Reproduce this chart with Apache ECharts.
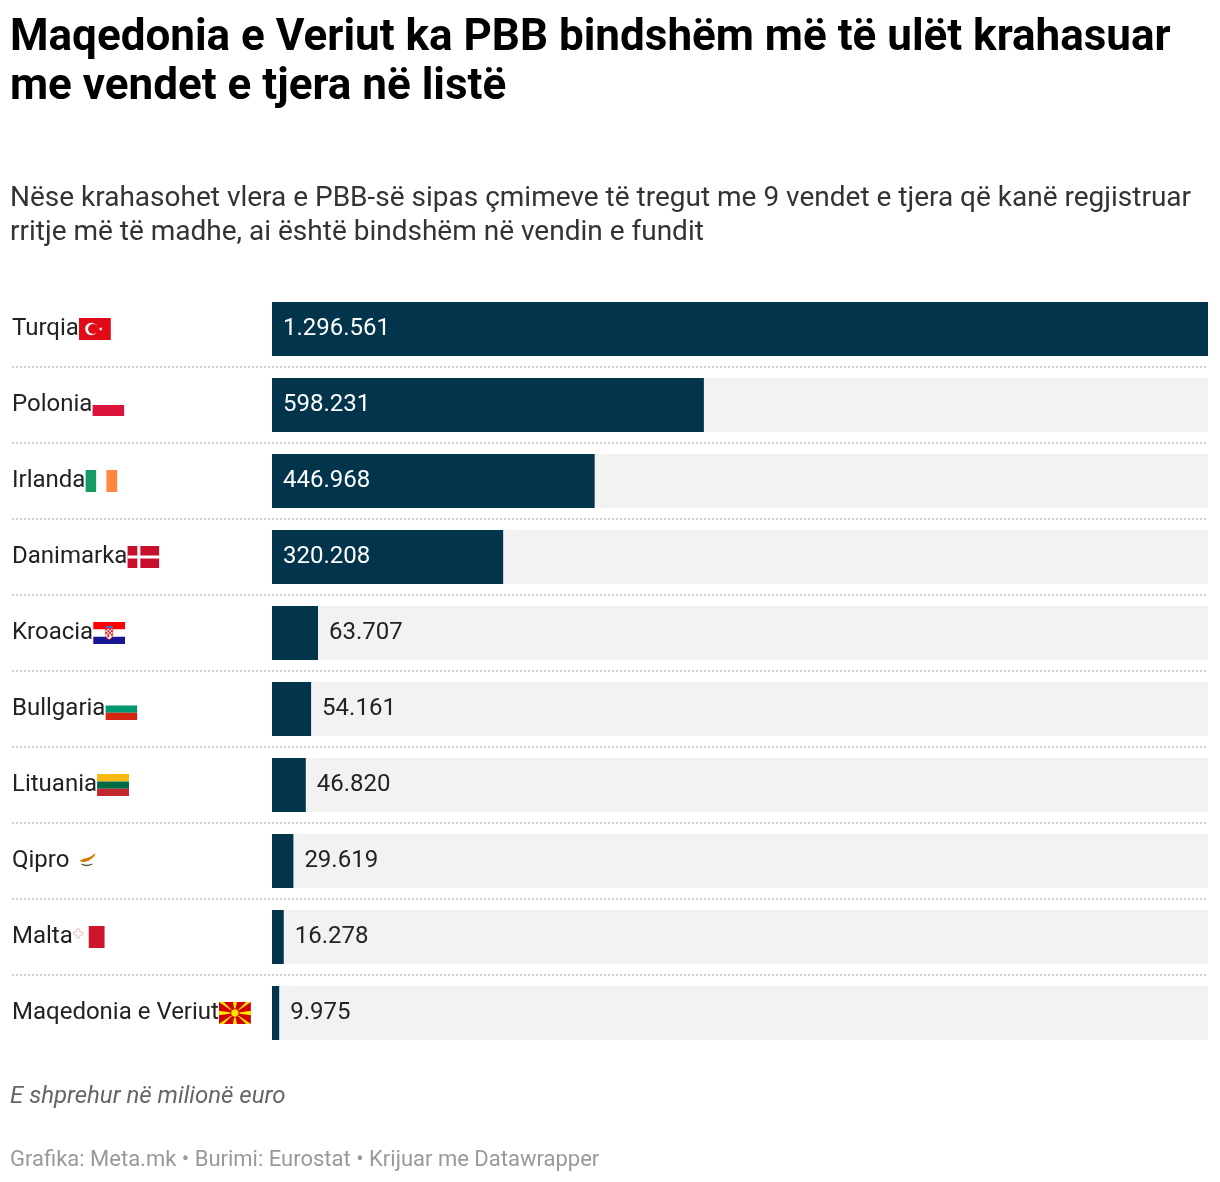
<!DOCTYPE html>
<html>
<head>
<meta charset="utf-8">
<script src="https://cdn.jsdelivr.net/npm/echarts@6/dist/echarts.min.js"></script>
<style>
html,body{margin:0;padding:0;background:#fff;}
#chart{width:1220px;height:1182px;}
</style>
</head>
<body>
<div id="chart"></div>
<script>
const categories = ['Turqia','Polonia','Irlanda','Danimarka','Kroacia','Bullgaria','Lituania','Qipro','Malta','Maqedonia e Veriut'];
const values = [1296561, 598231, 446968, 320208, 63707, 54161, 46820, 29619, 16278, 9975];
const flagKeys = ['tr','pl','ie','dk','hr','bg','lt','cy','mt','mk'];
const labelInside = [true, true, true, true, false, false, false, false, false, false];

const titleText = 'Maqedonia e Veriut ka PBB bindshëm më të ulët krahasuar\nme vendet e tjera në listë';
const subtitleText = 'Nëse krahasohet vlera e PBB-së sipas çmimeve të tregut me 9 vendet e tjera që kanë regjistruar\nrritje më të madhe, ai është bindshëm në vendin e fundit';
const noteText = 'E shprehur në milionë euro';
const creditText = 'Grafika: Meta.mk • Burimi: Eurostat • Krijuar me Datawrapper';

// Flag icons (decorative), as small SVG images
const flagSvgs = {
  tr: '<rect width="32" height="22" fill="#E30A17"/><circle cx="12.5" cy="11" r="6.2" fill="#fff"/><circle cx="14.2" cy="11" r="5" fill="#E30A17"/><polygon points="19.5,11 23.5,9.5 21.2,12.9 21.2,9.1 23.5,12.5" fill="#fff"/>',
  pl: '<rect width="32" height="11" fill="#fff"/><rect y="11" width="32" height="11" fill="#DC143C"/>',
  ie: '<rect width="11" height="22" fill="#169B62"/><rect x="11" width="10" height="22" fill="#fff"/><rect x="21" width="11" height="22" fill="#FF883E"/>',
  dk: '<rect width="32" height="22" fill="#C8102E"/><rect x="10" width="3" height="22" fill="#fff"/><rect y="9.5" width="32" height="3" fill="#fff"/>',
  hr: '<rect width="32" height="7.4" fill="#FF0000"/><rect y="7.4" width="32" height="7.3" fill="#fff"/><rect y="14.7" width="32" height="7.3" fill="#171796"/><rect x="12.5" y="4" width="7" height="2.5" fill="#3C6ED0"/><path d="M12.5 6.5 h7 v6 q0 4 -3.5 5 q-3.5 -1 -3.5 -5z" fill="#fff" stroke="#FF0000" stroke-width="0.6"/><rect x="12.5" y="6.5" width="1.75" height="1.75" fill="#FF0000"/><rect x="16" y="6.5" width="1.75" height="1.75" fill="#FF0000"/><rect x="14.25" y="8.25" width="1.75" height="1.75" fill="#FF0000"/><rect x="17.75" y="8.25" width="1.75" height="1.75" fill="#FF0000"/><rect x="12.5" y="10" width="1.75" height="1.75" fill="#FF0000"/><rect x="16" y="10" width="1.75" height="1.75" fill="#FF0000"/><rect x="14.25" y="11.75" width="1.75" height="1.75" fill="#FF0000"/><rect x="17.75" y="11.75" width="1.75" height="1.75" fill="#FF0000"/><rect x="14.25" y="13.5" width="1.75" height="1.75" fill="#FF0000"/>',
  bg: '<rect width="32" height="7.4" fill="#fff"/><rect y="7.4" width="32" height="7.3" fill="#00966E"/><rect y="14.7" width="32" height="7.3" fill="#D62612"/>',
  lt: '<rect width="32" height="7.4" fill="#FDB913"/><rect y="7.4" width="32" height="7.3" fill="#006A44"/><rect y="14.7" width="32" height="7.3" fill="#C1272D"/>',
  cy: '<rect width="32" height="22" fill="#fff"/><path d="M4 11 q4 -3 8 -3 q4 -1 8 -5 q0 3 -3 5 q-3 3 -8 4 q-3 0 -5 -1z" fill="#D57800"/><path d="M6 14 q5 3 11 0" stroke="#4E5B31" stroke-width="1.3" fill="none"/>',
  mt: '<rect width="16" height="22" fill="#fff"/><rect x="16" width="16" height="22" fill="#CF142B"/><path d="M4 3 h3 v3 h3 v3 h-3 v3 h-3 v-3 h-3 v-3 h3z" fill="#fff" stroke="#D9A5AE" stroke-width="0.7"/>',
  mk: '<rect width="32" height="22" fill="#D20000"/><g fill="#FFE600"><polygon points="0,0 4.8,0 16,11"/><polygon points="32,0 27.2,0 16,11"/><polygon points="0,22 4.8,22 16,11"/><polygon points="32,22 27.2,22 16,11"/><polygon points="0,8.8 0,13.2 16,11"/><polygon points="32,8.8 32,13.2 16,11"/><polygon points="14,0 18,0 16,11"/><polygon points="14,22 18,22 16,11"/><circle cx="16" cy="11" r="4.2" stroke="#D20000" stroke-width="1"/></g>'
};
function flagUrl(k) {
  const svg = '<svg xmlns="http://www.w3.org/2000/svg" width="32" height="22" viewBox="0 0 32 22">' + flagSvgs[k] + '</svg>';
  return 'data:image/svg+xml;charset=utf-8,' + encodeURIComponent(svg);
}

const rich = {
  name: { fontFamily: 'Roboto', fontSize: 24, color: '#222222' }
};
flagKeys.forEach(k => {
  rich[k] = { width: 32, height: 22, backgroundColor: { image: flagUrl(k) } };
});

function fmt(v) {
  return String(v).replace(/\B(?=(\d{3})+(?!\d))/g, '.');
}

const barData = values.map((v, i) => ({
  value: v,
  label: labelInside[i]
    ? { position: 'insideLeft', color: '#ffffff', distance: 11 }
    : { position: 'right', color: '#222222', distance: 11 }
}));
const maxVal = Math.max(...values);
const bgData = values.map(() => maxVal);

const chart = echarts.init(document.getElementById('chart'), null, { renderer: 'canvas' });
chart.setOption({
  backgroundColor: '#ffffff',
  animation: false,
  textStyle: { fontFamily: 'Roboto' },
  title: [
    { text: titleText, left: 10, top: 14, padding: 0,
      textStyle: { fontFamily: 'Roboto', fontWeight: 'bold', fontSize: 44, lineHeight: 49, color: '#000000' } },
    { text: subtitleText, left: 10, top: 182, padding: 0,
      textStyle: { fontFamily: 'Roboto', fontWeight: 'normal', fontSize: 28, lineHeight: 34, color: '#333333' } },
    { text: noteText, left: 10, top: 1085, padding: 0,
      textStyle: { fontFamily: 'Roboto', fontStyle: 'italic', fontWeight: 'normal', fontSize: 24, color: '#666666' } },
    { text: creditText, left: 10, top: 1149, padding: 0,
      textStyle: { fontFamily: 'Roboto', fontWeight: 'normal', fontSize: 22, color: '#999999' } }
  ],
  grid: [
    { left: 12, right: 12, top: 291, height: 760 },
    { left: 272, right: 12, top: 291, height: 760 }
  ],
  xAxis: [
    { gridIndex: 0, type: 'value', min: 0, max: 1, show: false },
    { gridIndex: 1, type: 'value', min: 0, max: maxVal, show: false }
  ],
  yAxis: [
    { gridIndex: 0, type: 'category', data: categories, inverse: true,
      axisLine: { show: false }, axisTick: { show: false }, axisLabel: { show: false },
      splitLine: { show: true, interval: 0, showMinLine: false, showMaxLine: false,
        lineStyle: { color: '#d0d0d0', width: 2, type: [2, 2] } } },
    { gridIndex: 1, type: 'category', data: categories, inverse: true,
      axisLine: { show: false }, axisTick: { show: false }, splitLine: { show: false },
      axisLabel: {
        margin: 260, align: 'left', interval: 0,
        formatter: (val, idx) => '{name|' + val + (val === 'Qipro' ? ' ' : '') + '}{' + flagKeys[idx] + '|}',
        rich: rich
      } }
  ],
  series: [
    { type: 'bar', xAxisIndex: 1, yAxisIndex: 1, data: bgData, barWidth: 54, barGap: '-100%',
      itemStyle: { color: '#f2f2f2' }, silent: true, z: 1 },
    { type: 'bar', xAxisIndex: 1, yAxisIndex: 1, data: barData, barWidth: 54,
      itemStyle: { color: '#02344b' }, z: 2,
      label: { show: true, fontFamily: 'Roboto', fontSize: 24, formatter: p => fmt(p.value) } }
  ]
});
</script>
</body>
</html>
